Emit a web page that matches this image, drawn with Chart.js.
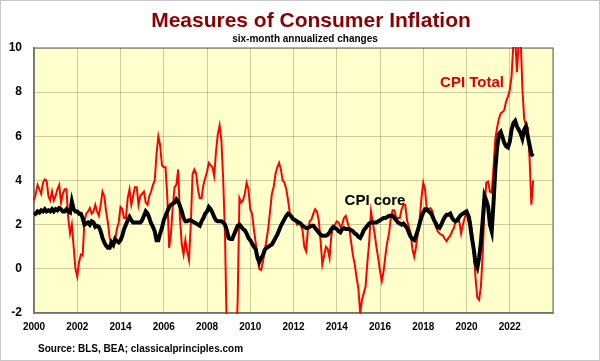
<!DOCTYPE html>
<html>
<head>
<meta charset="utf-8">
<script src="https://cdn.jsdelivr.net/npm/chart.js@4.4.1/dist/chart.umd.min.js"></script>
<style>
  html, body { margin: 0; padding: 0; background: #fff; }
  #wrap { position: relative; width: 600px; height: 361px; }
</style>
</head>
<body>
<div id="wrap"><canvas id="chart" width="600" height="361"></canvas></div>
<script>
// monthly series, first point = Jan 2000
const startYear = 2000;

// CPI total, six-month annualized % change
const cpiTotal = [
  3.1, 3.4, 3.8, 3.6, 3.4, 3.9, 4.05, 4.0, 3.3, 3.1, 3.5, 3.1,
  3.3, 3.6, 3.8, 3.0, 3.4, 3.6, 3.6, 2.3, 1.6, 2.0, 1.0, 0.0,
  -0.35, 0.3, 0.65, 0.6, 2.15, 2.5, 2.6, 2.75, 2.5, 2.6, 2.9, 2.6,
  2.4, 2.9, 3.5, 3.3, 2.6, 2.1, 1.4, 1.1, 1.0, 1.3, 1.8, 2.1,
  2.8, 2.7, 2.3, 2.3, 3.2, 3.6, 2.9, 3.3, 3.7, 3.7, 2.9, 3.3,
  3.4, 3.5, 3.0, 2.9, 3.3, 3.5, 3.8, 4.0, 5.2, 6.0, 5.6, 4.7,
  4.6, 4.6, 3.2, 0.95, 1.6, 2.8, 3.7, 3.8, 4.5, 2.3, 1.1, 0.65,
  1.3, 0.8, 0.4, 2.0, 4.3, 4.5, 4.3, 3.6, 3.2, 3.2, 3.8, 4.1,
  4.4, 4.8, 4.7, 4.6, 4.2, 5.3, 6.1, 6.5, 5.8, 4.0, 1.5, -3.0,
  -6.0, -8.0, -7.0, -6.0, -4.0, -1.5, 3.2, 3.0, 3.1, 3.4, 3.9, 3.6,
  2.7, 2.5, 1.8, 1.2, 0.5, 0.0, -0.05, 0.3, 0.8, 1.3, 1.85, 2.6,
  3.4, 3.7, 4.3, 4.6, 4.8, 4.5, 4.0, 3.9, 3.6, 3.1, 2.5, 2.25,
  2.2, 2.2, 2.0, 2.05, 2.0, 1.75, 1.0, 0.8, 1.8, 2.15, 2.25, 2.5,
  2.7, 2.6, 2.2, 1.3, 0.2, 0.6, 1.0, 0.9, 0.5, 1.5, 1.9, 2.0,
  2.15, 2.1, 1.9, 2.0, 2.3, 2.4, 2.1, 1.8, 1.2, 0.6, 0.2, -0.4,
  -0.9, -2.0, -1.4, -1.1, -0.8, 0.3, 1.2, 2.6, 2.1, 1.6, 1.0, 0.5,
  -0.1, -0.55, -0.1, 0.6, 1.2, 1.6, 2.3, 2.65, 2.65, 2.3, 2.3, 2.3,
  2.7, 2.9, 2.9, 2.2, 1.9, 1.6, 0.9, 0.55, 1.0, 1.6, 2.2, 3.2,
  3.9, 3.6, 2.65, 2.7, 2.75, 2.65, 2.2, 1.9, 1.7, 1.6, 1.55, 1.5,
  1.35, 1.25, 1.4, 1.5, 1.7, 1.85, 2.2, 2.3, 2.15, 1.6, 2.0, 2.3,
  2.6, 2.5, 2.3, 1.7, 0.9, -0.4, -1.3, -1.4, -0.8, 0.7, 2.8, 3.9,
  3.95, 3.5, 3.45, 4.6, 5.9, 6.4, 6.8, 7.05, 7.1, 7.2, 7.6, 7.8,
  8.1, 8.7, 10.2, 10.5, 8.9, 10.3, 10.6, 8.2, 6.8, 6.5, 6.4, 5.0, 2.9, 4.0
];

// CPI core
const cpiCore = [
  2.45, 2.5, 2.6, 2.55, 2.65, 2.6, 2.7, 2.6, 2.65, 2.6, 2.7, 2.6,
  2.7, 2.65, 2.75, 2.7, 2.6, 2.6, 2.7, 2.6, 2.55, 3.05, 2.7, 2.6,
  2.6, 2.5, 2.5, 2.3, 2.0, 2.05, 2.1, 2.0, 2.15, 2.1, 1.9, 1.95,
  1.9, 1.7, 1.4, 1.2, 1.05, 0.95, 0.95, 1.2, 1.1, 1.35, 1.25, 1.2,
  1.3, 1.5, 1.8, 2.0, 2.2, 2.35, 2.2, 2.1, 2.1, 2.1, 2.1, 2.1,
  2.2, 2.4, 2.6, 2.5, 2.3, 2.05, 1.9, 1.7, 1.3, 1.3, 1.6, 1.85,
  2.2, 2.4, 2.6, 2.8, 2.9, 2.95, 3.0, 3.15, 3.05, 2.85, 2.6, 2.3,
  2.15, 2.15, 2.2, 2.2, 2.15, 2.1, 2.05, 2.0, 1.95, 2.15, 2.3, 2.5,
  2.6, 2.8, 2.7, 2.55, 2.35, 2.2, 2.15, 2.15, 2.15, 2.1, 2.0, 1.75,
  1.4, 1.35, 1.35, 1.55, 1.75, 1.95, 2.0, 1.9, 1.8, 1.75, 1.6, 1.4,
  1.3, 1.15, 1.0, 0.9, 0.5, 0.3, 0.5, 0.6, 0.85, 0.95, 1.0, 1.05,
  1.1, 1.25, 1.4, 1.55, 1.75, 1.95, 2.1, 2.25, 2.4, 2.5, 2.45, 2.35,
  2.25, 2.2, 2.15, 2.1, 2.05, 1.95, 1.9, 1.85, 1.85, 1.9, 1.95, 1.95,
  1.85, 1.75, 1.65, 1.55, 1.5, 1.5, 1.5, 1.55, 1.65, 1.8, 1.9, 1.85,
  1.8, 1.7, 1.65, 1.8, 1.85, 1.8, 1.8, 1.8, 1.75, 1.7, 1.6, 1.55,
  1.45, 1.4, 1.55, 1.75, 1.85, 1.95, 2.05, 2.1, 2.1, 2.1, 2.1, 2.15,
  2.2, 2.25, 2.3, 2.3, 2.35, 2.4, 2.4, 2.4, 2.3, 2.2, 2.1, 2.05,
  2.0, 2.05, 1.95, 1.85, 1.65, 1.45, 1.35, 1.3, 1.5, 1.75, 2.05, 2.35,
  2.55, 2.7, 2.7, 2.6, 2.55, 2.4, 2.2, 2.05, 1.9, 1.85, 2.0, 2.2,
  2.35, 2.45, 2.45, 2.5, 2.3, 2.2, 2.15, 2.2, 2.35, 2.45, 2.5, 2.55,
  2.6, 2.4, 2.0, 1.4, 0.9, 0.25, 0.05, 0.5, 1.2, 2.2, 3.3, 3.1,
  2.8, 2.0, 1.7, 3.0, 4.5, 5.5, 6.1, 6.2, 5.95, 5.7, 5.55, 5.5,
  5.75, 6.3, 6.6, 6.7, 6.45, 6.3, 6.15, 5.9, 6.3, 6.45, 6.0, 5.6, 5.2, 5.1
];

// tick labels as printed on the original (third one really says 2014)
const xTickLabels = ['2000', '2002', '2014', '2006', '2008', '2010', '2012',
                     '2014', '2016', '2018', '2020', '2022', ''];
const yTicks = [-2, 0, 2, 4, 6, 8, 10];

const titleText = 'Measures of Consumer Inflation';
const subtitleText = 'six-month annualized changes';
const sourceText = 'Source: BLS, BEA; classicalprinciples.com';
const totalLabel = 'CPI Total';
const coreLabel = 'CPI core';

function toPoints(arr) {
  return arr.map((v, i) => ({ x: startYear + i / 12, y: v }));
}

const FONT = '"Liberation Sans", Arial, sans-serif';

const decor = {
  id: 'decor',
  beforeDraw(chart) {
    const ctx = chart.ctx, a = chart.chartArea;
    ctx.save();
    ctx.fillStyle = '#ffffff';
    ctx.fillRect(0, 0, chart.width, chart.height);
    ctx.fillStyle = '#ffffcc';
    ctx.fillRect(a.left, a.top, a.right - a.left, a.bottom - a.top);
    ctx.restore();
  },
  beforeDatasetsDraw(chart) {
    const ctx = chart.ctx, a = chart.chartArea;
    ctx.save();
    ctx.strokeStyle = '#7a7a6a';
    ctx.lineWidth = 1.2;
    ctx.strokeRect(a.left, a.top, a.right - a.left, a.bottom - a.top);
    ctx.restore();
  },
  afterDraw(chart) {
    const ctx = chart.ctx;
    ctx.save();
    ctx.textAlign = 'center';
    ctx.fillStyle = '#8b0000';
    ctx.font = 'bold 21px ' + FONT;
    ctx.fillText(titleText, 311, 27);
    ctx.fillStyle = '#000';
    ctx.font = 'bold 10px ' + FONT;
    ctx.fillText(subtitleText, 305, 42);

    ctx.fillStyle = '#e00000';
    ctx.font = 'bold 15px ' + FONT;
    ctx.fillText(totalLabel, 472, 87);
    ctx.fillStyle = '#000';
    ctx.fillText(coreLabel, 375, 205);

    ctx.textAlign = 'left';
    ctx.font = 'bold 10px ' + FONT;
    ctx.fillText(sourceText, 38, 352);

    ctx.strokeStyle = '#c8c8c8';
    ctx.lineWidth = 1;
    ctx.strokeRect(0.5, 0.5, chart.width - 1, chart.height - 1);
    ctx.restore();
  }
};

new Chart(document.getElementById('chart').getContext('2d'), {
  type: 'line',
  data: {
    datasets: [
      {
        label: totalLabel,
        data: toPoints(cpiTotal),
        borderColor: '#ff0000',
        borderWidth: 2,
        pointRadius: 0,
        tension: 0,
        clip: 1,
        order: 2
      },
      {
        label: coreLabel,
        data: toPoints(cpiCore),
        borderColor: '#000000',
        borderWidth: 4,
        pointRadius: 0,
        tension: 0,
        clip: 1,
        order: 1
      }
    ]
  },
  options: {
    responsive: false,
    animation: false,
    layout: { padding: { top: 48, right: 47, left: 0, bottom: 0 } },
    plugins: {
      legend: { display: false },
      tooltip: { enabled: false }
    },
    scales: {
      x: {
        type: 'linear',
        min: 2000,
        max: 2024,
        afterFit(scale) { scale.height = 48; },
        grid: { color: 'rgba(110,110,70,0.35)', lineWidth: 1, drawTicks: false },
        border: { color: '#666', width: 1.5 },
        ticks: {
          stepSize: 2,
          autoSkip: false,
          maxRotation: 0,
          padding: 8,
          color: '#000',
          font: { family: FONT, size: 10, weight: 'bold' },
          callback: v => xTickLabels[Math.round((v - 2000) / 2)] || ''
        }
      },
      y: {
        min: -2,
        max: 10,
        afterFit(scale) { scale.width = 34; },
        afterBuildTicks(scale) { scale.ticks = yTicks.map(v => ({ value: v })); },
        grid: { color: 'rgba(110,110,70,0.35)', lineWidth: 1, drawTicks: false },
        border: { color: '#666', width: 1.5 },
        ticks: {
          padding: 12,
          color: '#000',
          font: { family: FONT, size: 12, weight: 'bold' }
        }
      }
    }
  },
  plugins: [decor]
});
</script>
</body>
</html>
